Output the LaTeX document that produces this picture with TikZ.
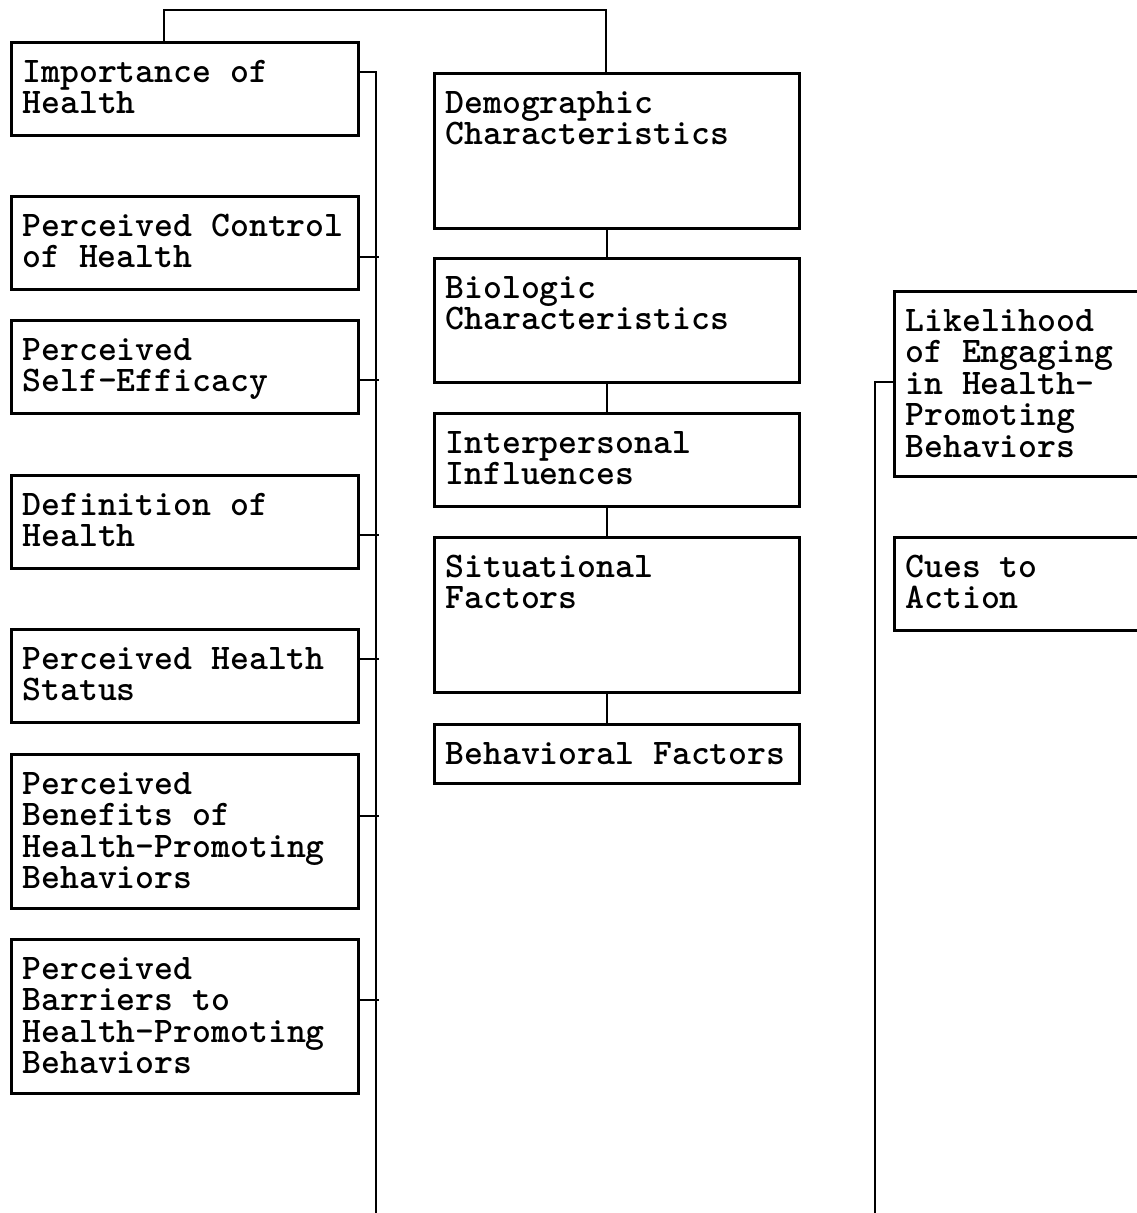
\documentclass[tikz,border=0pt]{standalone}
\usepackage{fontspec}
\usepackage{tikz}

\begin{document}
\begin{tikzpicture}[x=0.5pt,y=-0.5pt,
  factor/.style={draw,line width=1.4pt,anchor=north west,
    inner xsep=5.5pt,inner ysep=0pt,align=left,text height=20pt,
    font=\ttfamily\bfseries\fontsize{18}{15.75}\selectfont,
    execute at begin node={\spaceskip=0.525em\relax}},
  lcol/.style={factor,text width=162.5pt},
  mcol/.style={factor,text width=171.5pt},
  rcol/.style={factor,text width=121pt},
  link/.style={line width=1.4pt}
]
  \useasboundingbox (0,0) rectangle (1136,1213);
  % left column
  \node[lcol,text depth=26.5pt] (imp) at (10,41) {Importance of\\Health};
  \node[lcol,text depth=26.5pt] (ctrl) at (10,195) {Perceived Control\\of Health};
  \node[lcol,text depth=26.5pt] (eff) at (10,319) {Perceived\\Self-Efficacy};
  \node[lcol,text depth=26.5pt] (def) at (10,474) {Definition of\\Health};
  \node[lcol,text depth=26.5pt] (stat) at (10,628) {Perceived Health\\Status};
  \node[lcol,text depth=57pt] (ben) at (10,753)
    {Perceived\\Benefits of\\Health-Promoting\\Behaviors};
  \node[lcol,text depth=57pt] (bar) at (10,938)
    {Perceived\\Barriers to\\Health-Promoting\\Behaviors};
  % middle column
  \node[mcol,text depth=57.5pt] (demo) at (433,72) {Demographic\\Characteristics};
  \node[mcol,text depth=42pt] (bio) at (433,257) {Biologic\\Characteristics};
  \node[mcol,text depth=26.5pt] (inter) at (433,412) {Interpersonal\\Influences};
  \node[mcol,text depth=57.5pt] (sit) at (433,536) {Situational\\Factors};
  \node[mcol,text depth=9.5pt] (beh) at (433,723) {Behavioral Factors};
  % right column
  \node[rcol,text depth=72.5pt] (like) at (893,290)
    {Likelihood\\of Engaging\\in Health-\\Promoting\\Behaviors};
  \node[rcol,text depth=26.5pt] (cues) at (893,536) {Cues to\\Action};

  \coordinate (mid) at (607,0);
  \coordinate (lbus) at (376,1220);
  \coordinate (rbus) at (875,1220);

  \draw[link] ([xshift=77pt]imp.north west) -- ++(0,-31)
    -| ([xshift=86.5pt]demo.north west);
  \draw[link] (demo.south -| mid) -- (bio.north -| mid);
  \draw[link] (bio.south -| mid) -- (inter.north -| mid);
  \draw[link] (inter.south -| mid) -- (sit.north -| mid);
  \draw[link] (sit.south -| mid) -- (beh.north -| mid);

  \draw[link] ([yshift=-15.5pt]imp.north east) -| (lbus);
  \foreach \n/\d in {ctrl/31,eff/30.5,def/30.5,stat/15.5,ben/31.5,bar/31}
    \draw[link] ([yshift=-\d pt]\n.north east) -- ++(19,0);

  \draw[link] ([yshift=-46pt]like.north west) -| (rbus);
\end{tikzpicture}
\end{document}
